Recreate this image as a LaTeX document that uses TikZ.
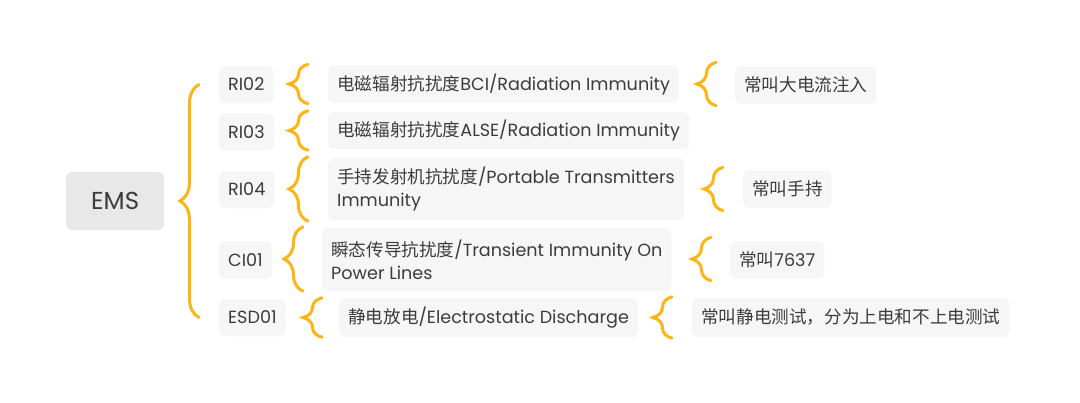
\documentclass[tikz,border=0pt]{standalone}
\usepackage{fontspec}
\setmainfont{Poppins}
\newfontfamily\cjk{Noto Sans CJK SC}
\usetikzlibrary{calc,decorations.pathreplacing}
\definecolor{brcol}{HTML}{FBB514}
\definecolor{boxgray}{HTML}{F6F6F6}
\definecolor{emsgray}{HTML}{E8E8E8}
\definecolor{txt}{HTML}{3C3C3C}
\tikzset{
  box/.style={fill=boxgray, rounded corners=6pt, inner xsep=9pt, inner ysep=4pt,
    minimum height=37pt, anchor=west, text=txt, align=left,
    font=\fontsize{17.6}{23}\selectfont},
  brc/.style={draw=brcol, line width=3pt, line cap=round, decorate,
    decoration={brace, amplitude=19pt}}
}
\begin{document}
\begin{tikzpicture}[x=1pt,y=-1pt]
\fill[white] (0,0) rectangle (1080,402);
\useasboundingbox (0,0) rectangle (1080,402);
% root
\node[box, fill=emsgray, minimum width=98pt, minimum height=58pt, align=center,
  font=\fontsize{24.5}{28}\selectfont] (ems) at (66,201) {EMS};
% test codes
\node[box] (ri02) at (219,84.5) {RI02};
\node[box] (ri03) at (219,132) {RI03};
\node[box] (ri04) at (219,189.5) {RI04};
\node[box] (ci01) at (219,260) {CI01};
\node[box] (esd01) at (219,317.5) {ESD01};
% test names
\node[box] (bci) at (328,84) {{\cjk 电磁辐射抗扰度}BCI/Radiation Immunity};
\node[box] (alse) at (328,130.5) {{\cjk 电磁辐射抗扰度}ALSE/Radiation Immunity};
\node[box, minimum height=62pt] (port) at (328,189) {{\cjk 手持发射机抗扰度}/Portable Transmitters\\Immunity};
\node[box, minimum height=63pt] (trans) at (322,259.5) {{\cjk 瞬态传导抗扰度}/Transient Immunity On\\Power Lines};
\node[box, minimum height=39pt] (esdt) at (339,317.5) {{\cjk 静电放电}/Electrostatic Discharge};
% notes
\node[box] (n1) at (735,85) {\cjk 常叫大电流注入};
\node[box] (n2) at (743,189) {\cjk 常叫手持};
\node[box] (n3) at (730,260) {{\cjk 常叫}7637};
\node[box, minimum height=39pt] (n4) at (692,317.5) {\cjk 常叫静电测试，分为上电和不上电测试};
% braces
\draw[brc] ($(esd01.west)+(-20,0)$) -- ($(ri02.west)+(-20,0)$);
\draw[brc] ($(bci.south west)+(-20,1)$) -- ($(bci.north west)+(-20,-1)$);
\draw[brc] ($(alse.south west)+(-20,1)$) -- ($(alse.north west)+(-20,-1)$);
\draw[brc] ($(port.south west)+(-20,1)$) -- ($(port.north west)+(-20,-1)$);
\draw[brc] ($(trans.south west)+(-19,0)$) -- ($(trans.north west)+(-19,-1)$);
\draw[brc] ($(esdt.south west)+(-17,0)$) -- ($(esdt.north west)+(-17,0)$);
\draw[brc] ($(n1.south west)+(-19,2)$) -- ($(n1.north west)+(-19,-4)$);
\draw[brc] ($(n2.south west)+(-20,3)$) -- ($(n2.north west)+(-20,-3)$);
\draw[brc] ($(n3.south west)+(-19,2)$) -- ($(n3.north west)+(-19,-4)$);
\draw[brc] ($(n4.south west)+(-20,1)$) -- ($(n4.north west)+(-20,-1)$);
\end{tikzpicture}
\end{document}
